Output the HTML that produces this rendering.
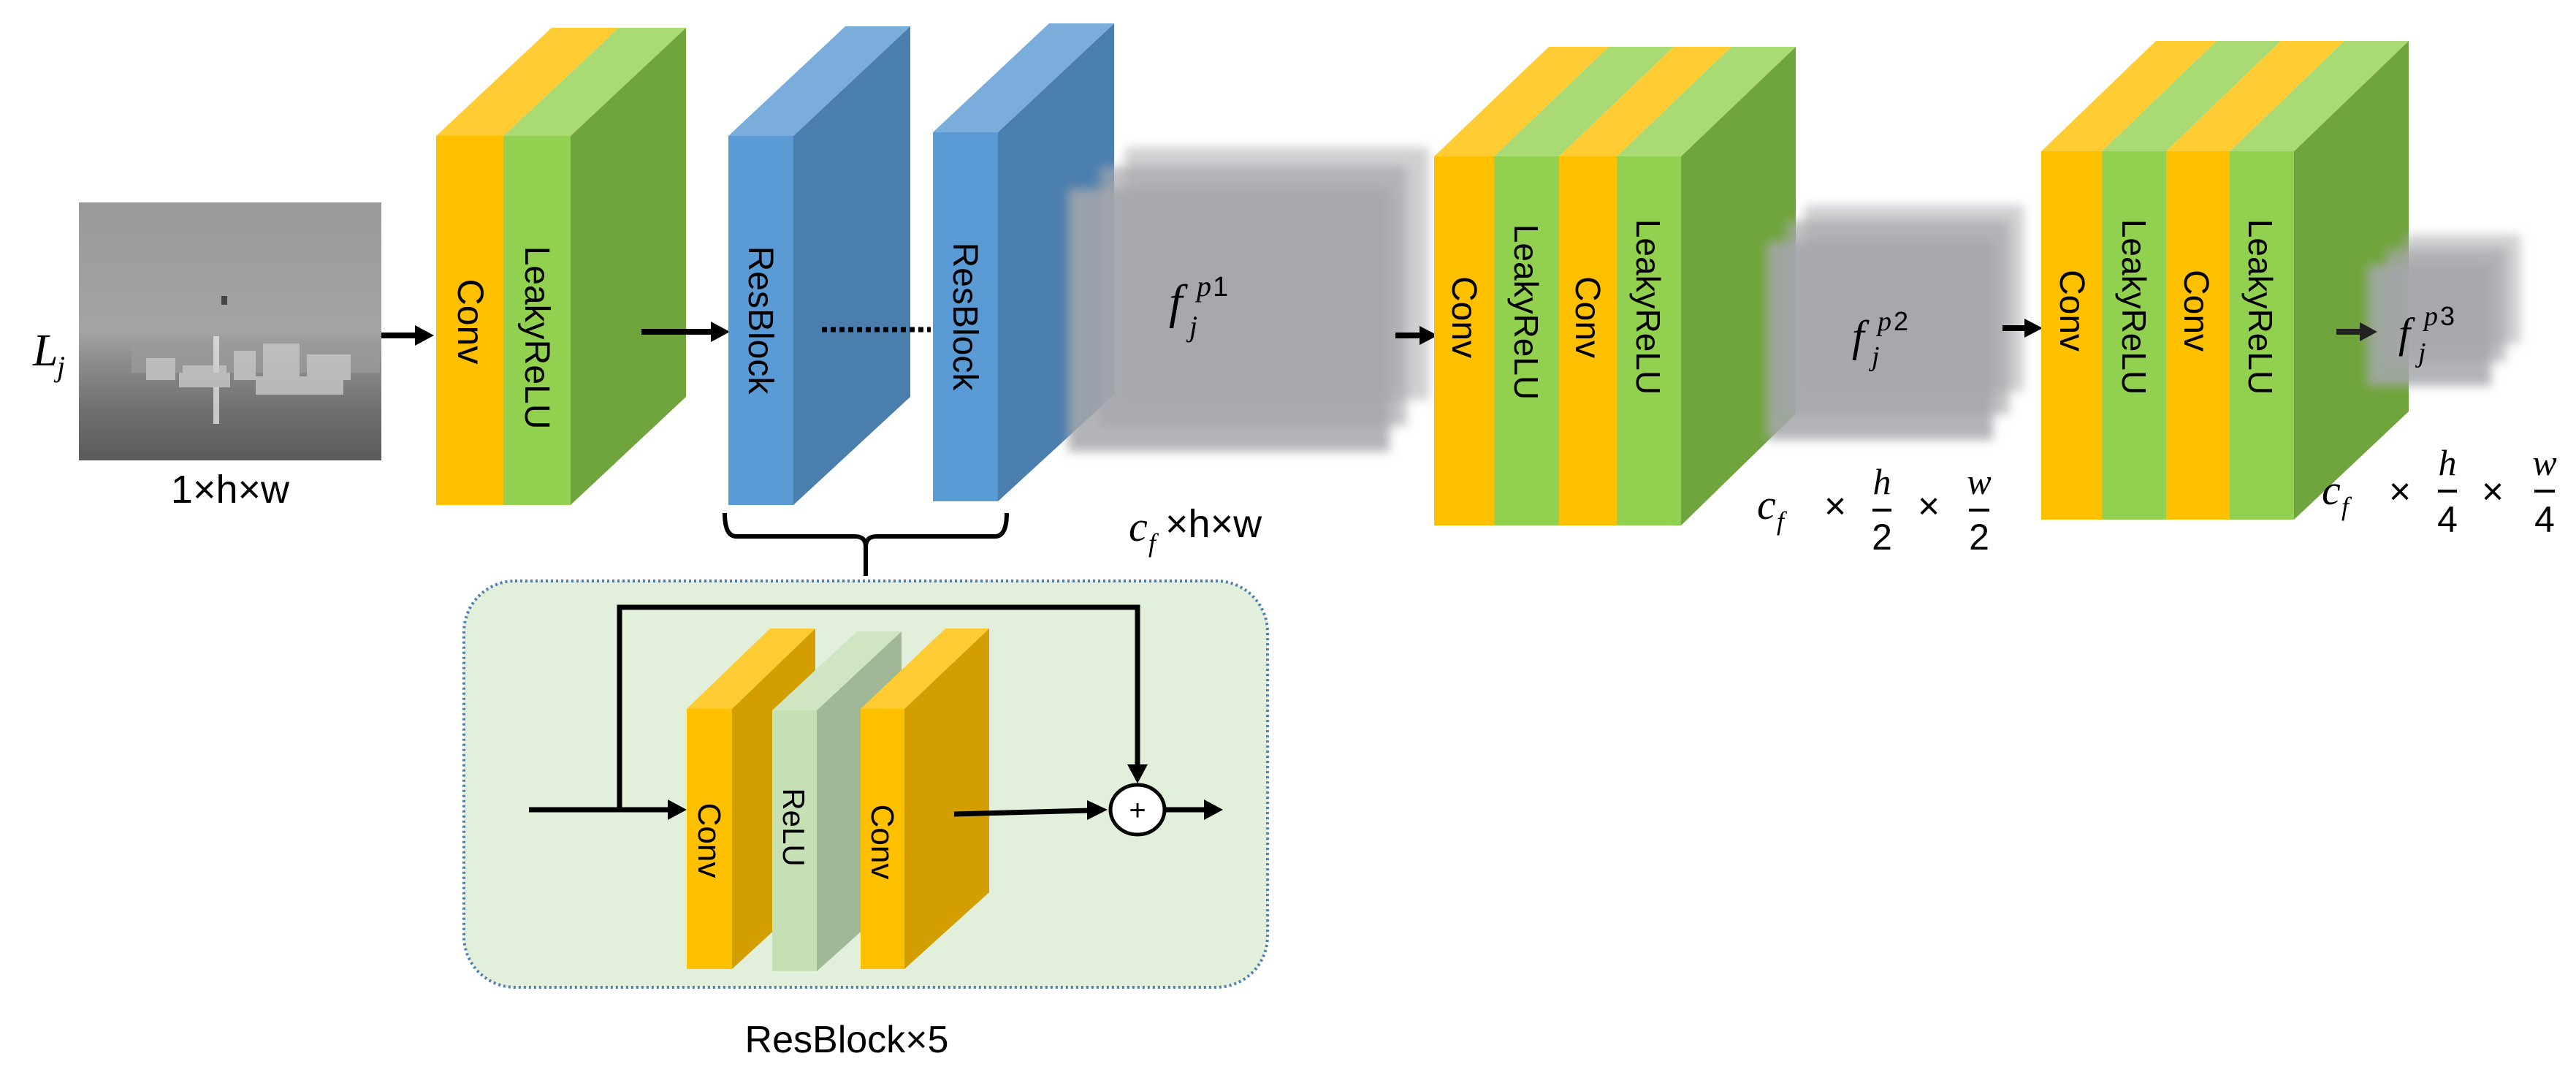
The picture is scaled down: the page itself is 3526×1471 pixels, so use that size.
<!DOCTYPE html>
<html><head><meta charset="utf-8"><style>
html,body{margin:0;padding:0;background:#fff;}
svg{display:block;}
.lbl{font-family:"Liberation Sans",sans-serif;fill:#000;}
.m{font-family:"Liberation Serif",serif;font-style:italic;fill:#000;}
.n{font-family:"Liberation Sans",sans-serif;fill:#000;}
</style></head><body>
<svg width="3526" height="1471" viewBox="0 0 3526 1471" xmlns="http://www.w3.org/2000/svg">
<defs>
<filter id="bl" x="-20%" y="-20%" width="140%" height="140%"><feGaussianBlur stdDeviation="7"/></filter>
<linearGradient id="sky" x1="0" y1="0" x2="0" y2="1">
<stop offset="0" stop-color="#9a9a9a"/><stop offset="0.5" stop-color="#a4a4a4"/><stop offset="0.62" stop-color="#8c8c8c"/><stop offset="0.8" stop-color="#707070"/><stop offset="1" stop-color="#5a5a5a"/></linearGradient>
</defs>

<rect x="108" y="277" width="414" height="353" fill="url(#sky)"/>
<g fill="#c8c8c8" opacity="0.8">
<rect x="180" y="470" width="340" height="40" fill="#9a9a9a"/>
<rect x="200" y="490" width="40" height="30"/><rect x="250" y="500" width="60" height="20"/><rect x="320" y="480" width="30" height="40"/><rect x="360" y="470" width="50" height="50"/><rect x="420" y="485" width="60" height="35"/>
<rect x="292" y="460" width="8" height="120" fill="#e0e0e0"/><rect x="245" y="510" width="70" height="20"/><rect x="350" y="515" width="120" height="25"/>
</g>
<rect x="303" y="405" width="8" height="12" fill="#444"/>

<text class="m" x="45" y="500" font-size="62">L</text><text class="m" x="78" y="515" font-size="40">j</text>
<text class="n" x="315" y="688" font-size="54" text-anchor="middle">1×h×w</text>

<line x1="522" y1="459" x2="570" y2="459" stroke="#000" stroke-width="8"/><path d="M568,445 L594,459 L568,473z"/>

<polygon points="781,186 939,38 939,543 781,691" fill="#70A43C"/>
<polygon points="597,186 755,38 847,38 689,186" fill="#FFCD33"/>
<polygon points="689,186 847,38 939,38 781,186" fill="#A9DA74"/>
<rect x="597" y="186" width="92" height="505" fill="#FFC000"/>
<rect x="689" y="186" width="92" height="505" fill="#92D050"/>
<text class="lbl" font-size="50" transform="translate(627,440) rotate(90)" text-anchor="middle">Conv</text>
<text class="lbl" font-size="48" transform="translate(719,462) rotate(90)" text-anchor="middle">LeakyReLU</text>

<line x1="878" y1="454" x2="975" y2="454" stroke="#000" stroke-width="8"/><path d="M973,440 L999,454 L973,468z"/>

<polygon points="1086,186 1246,36 1246,543 1086,691" fill="#4A7EAD"/>
<polygon points="997,186 1157,36 1246,36 1086,186" fill="#7AACDC"/>
<rect x="997" y="186" width="89" height="505" fill="#5B9BD5"/>
<text class="lbl" font-size="48" transform="translate(1025,438) rotate(90)" text-anchor="middle">ResBlock</text>
<line x1="1125" y1="451" x2="1274" y2="451" stroke="#000" stroke-width="7" stroke-dasharray="7,5"/>
<polygon points="1366,181 1525,32 1525,540 1366,686" fill="#4A7EAD"/>
<polygon points="1277,181 1436,32 1525,32 1366,181" fill="#7AACDC"/>
<rect x="1277" y="181" width="89" height="505" fill="#5B9BD5"/>
<text class="lbl" font-size="48" transform="translate(1305,433) rotate(90)" text-anchor="middle">ResBlock</text>

<g filter="url(#bl)" fill="#A6A7AB">
<rect x="1540" y="202" width="416" height="345" opacity="0.55"/>
<rect x="1505" y="228" width="420" height="355" opacity="0.7"/>
<rect x="1462" y="258" width="440" height="360" opacity="0.85"/>
</g>
<text class="m" x="1600" y="435" font-size="66">f</text><text class="m" x="1638" y="405" font-size="40">p</text><text class="n" x="1660" y="405" font-size="38">1</text><text class="m" x="1628" y="460" font-size="40">j</text>
<text class="m" x="1545" y="740" font-size="58">c</text><text class="m" x="1572" y="755" font-size="36">f</text><text class="n" x="1595" y="735" font-size="54">×h×w</text>

<path d="M992,702 Q992,734 1008,734 L1170,734 Q1185,734 1185,748 Q1185,734 1200,734 L1362,734 Q1378,734 1378,702 M1185,748 L1185,788" fill="none" stroke="#000" stroke-width="6"/>

<rect x="635" y="795" width="1100" height="556" rx="70" fill="#E2EFDA" stroke="#4F7FB0" stroke-width="4" stroke-dasharray="3,4"/>
<path d="M848,1108 L848,831 L1557,831 L1557,1050" fill="none" stroke="#000" stroke-width="7"/>
<path d="M1543,1046 L1557,1072 L1571,1046z"/>
<line x1="724" y1="1108" x2="918" y2="1108" stroke="#000" stroke-width="7"/><path d="M914,1094 L940,1108 L914,1122z"/>
<polygon points="1002,970 1116,860 1116,1221 1002,1326" fill="#D29E00"/>
<polygon points="940,970 1054,860 1116,860 1002,970" fill="#FFCD33"/>
<rect x="940" y="970" width="62" height="356" fill="#FFC000"/>
<text class="lbl" font-size="44" transform="translate(956,1150) rotate(90)" text-anchor="middle">Conv</text>
<polygon points="1118,972 1234,864 1234,1225 1118,1329" fill="#A0B896"/>
<polygon points="1057,972 1173,864 1234,864 1118,972" fill="#D0E6C2"/>
<rect x="1057" y="972" width="61" height="357" fill="#C5E0B4"/>
<text class="lbl" font-size="42" transform="translate(1072,1132) rotate(90)" text-anchor="middle">ReLU</text>
<polygon points="1238,970 1354,860 1354,1221 1238,1326" fill="#D29E00"/>
<polygon points="1178,970 1294,860 1354,860 1238,970" fill="#FFCD33"/>
<rect x="1178" y="970" width="60" height="356" fill="#FFC000"/>
<text class="lbl" font-size="44" transform="translate(1193,1152) rotate(90)" text-anchor="middle">Conv</text>
<line x1="1306" y1="1114" x2="1492" y2="1109" stroke="#000" stroke-width="7"/><path d="M1488,1095 L1516,1108 L1488,1122z"/>
<ellipse cx="1557" cy="1108" rx="37" ry="34" fill="#fff" stroke="#000" stroke-width="5"/>
<text class="n" x="1557" y="1122" font-size="40" text-anchor="middle">+</text>
<line x1="1594" y1="1108" x2="1652" y2="1108" stroke="#000" stroke-width="7"/><path d="M1648,1094 L1674,1108 L1648,1122z"/>
<text class="n" x="1159" y="1440" font-size="52" text-anchor="middle">ResBlock×5</text>

<line x1="1910" y1="459" x2="1945" y2="459" stroke="#000" stroke-width="8"/><path d="M1943,446 L1968,459 L1943,472z"/>

<polygon points="2301,214 2458,64 2458,566 2301,719" fill="#70A43C"/>
<polygon points="1963,214 2120,64 2202,64 2045,214" fill="#FFCD33"/>
<polygon points="2045,214 2202,64 2291,64 2134,214" fill="#A9DA74"/>
<polygon points="2134,214 2291,64 2370,64 2213,214" fill="#FFCD33"/>
<polygon points="2213,214 2370,64 2458,64 2301,214" fill="#A9DA74"/>
<rect x="1963" y="214" width="82" height="505" fill="#FFC000"/>
<rect x="2045" y="214" width="89" height="505" fill="#92D050"/>
<rect x="2134" y="214" width="79" height="505" fill="#FFC000"/>
<rect x="2213" y="214" width="88" height="505" fill="#92D050"/>
<text class="lbl" font-size="48" transform="translate(1988,434) rotate(90)" text-anchor="middle">Conv</text>
<text class="lbl" font-size="46" transform="translate(2073,427) rotate(90)" text-anchor="middle">LeakyReLU</text>
<text class="lbl" font-size="48" transform="translate(2157,434) rotate(90)" text-anchor="middle">Conv</text>
<text class="lbl" font-size="46" transform="translate(2240,420) rotate(90)" text-anchor="middle">LeakyReLU</text>

<g filter="url(#bl)" fill="#A6A7AB">
<rect x="2470" y="281" width="300" height="255" opacity="0.55"/>
<rect x="2445" y="302" width="305" height="265" opacity="0.7"/>
<rect x="2418" y="330" width="310" height="272" opacity="0.85"/>
</g>
<text class="m" x="2535" y="480" font-size="60">f</text><text class="m" x="2570" y="452" font-size="38">p</text><text class="n" x="2592" y="452" font-size="36">2</text><text class="m" x="2562" y="500" font-size="38">j</text>
<text class="m" x="2405" y="710" font-size="58">c</text><text class="m" x="2432" y="725" font-size="36">f</text>
<text class="n" x="2512" y="710" font-size="52" text-anchor="middle">×</text>
<text class="m" x="2576" y="676" font-size="50" text-anchor="middle">h</text><rect x="2563" y="696" width="26" height="4"/><text class="n" x="2576" y="752" font-size="50" text-anchor="middle">2</text>
<text class="n" x="2640" y="710" font-size="52" text-anchor="middle">×</text>
<text class="m" x="2709" y="676" font-size="50" text-anchor="middle">w</text><rect x="2695" y="696" width="28" height="4"/><text class="n" x="2709" y="752" font-size="50" text-anchor="middle">2</text>

<line x1="2741" y1="449" x2="2773" y2="449" stroke="#000" stroke-width="8"/><path d="M2771,436 L2796,449 L2771,462z"/>

<polygon points="3140,207 3297,56 3297,563 3140,711" fill="#70A43C"/>
<polygon points="2794,207 2951,56 3034,56 2877,207" fill="#FFCD33"/>
<polygon points="2877,207 3034,56 3122,56 2965,207" fill="#A9DA74"/>
<polygon points="2965,207 3122,56 3209,56 3052,207" fill="#FFCD33"/>
<polygon points="3052,207 3209,56 3297,56 3140,207" fill="#A9DA74"/>
<rect x="2794" y="207" width="83" height="504" fill="#FFC000"/>
<rect x="2877" y="207" width="88" height="504" fill="#92D050"/>
<rect x="2965" y="207" width="87" height="504" fill="#FFC000"/>
<rect x="3052" y="207" width="88" height="504" fill="#92D050"/>
<text class="lbl" font-size="48" transform="translate(2820,425) rotate(90)" text-anchor="middle">Conv</text>
<text class="lbl" font-size="46" transform="translate(2905,420) rotate(90)" text-anchor="middle">LeakyReLU</text>
<text class="lbl" font-size="48" transform="translate(2990,425) rotate(90)" text-anchor="middle">Conv</text>
<text class="lbl" font-size="46" transform="translate(3078,420) rotate(90)" text-anchor="middle">LeakyReLU</text>

<g filter="url(#bl)" fill="#A6A7AB">
<rect x="3290" y="321" width="160" height="150" opacity="0.55"/>
<rect x="3265" y="340" width="165" height="155" opacity="0.7"/>
<rect x="3240" y="362" width="170" height="166" opacity="0.85"/>
</g>
<line x1="3198" y1="454" x2="3232" y2="454" stroke="#222" stroke-width="8"/><path d="M3230,441 L3254,454 L3230,467z" fill="#222"/>
<text class="m" x="3283" y="475" font-size="58">f</text><text class="m" x="3318" y="445" font-size="38">p</text><text class="n" x="3340" y="445" font-size="36">3</text><text class="m" x="3310" y="495" font-size="38">j</text>
<text class="m" x="3178" y="690" font-size="58">c</text><text class="m" x="3205" y="705" font-size="36">f</text>
<text class="n" x="3285" y="690" font-size="52" text-anchor="middle">×</text>
<text class="m" x="3350" y="650" font-size="50" text-anchor="middle">h</text><rect x="3337" y="670" width="26" height="4"/><text class="n" x="3350" y="728" font-size="50" text-anchor="middle">4</text>
<text class="n" x="3412" y="690" font-size="52" text-anchor="middle">×</text>
<text class="m" x="3483" y="650" font-size="50" text-anchor="middle">w</text><rect x="3469" y="670" width="28" height="4"/><text class="n" x="3483" y="728" font-size="50" text-anchor="middle">4</text>
</svg>
</body></html>
